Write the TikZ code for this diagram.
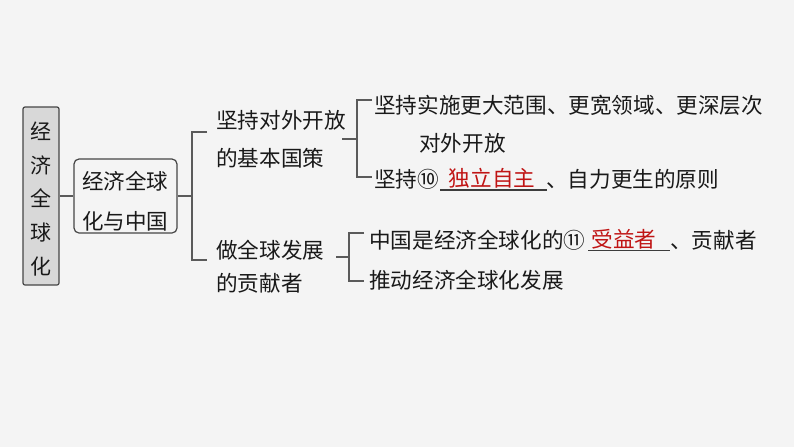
\documentclass[tikz,border=0pt]{standalone}
\usepackage{fontspec}
\setmainfont{Noto Sans CJK SC}
\definecolor{bgc}{RGB}{244,244,244}
\definecolor{ink}{RGB}{25,25,25}
\definecolor{lineg}{RGB}{90,90,90}
\definecolor{boxfill}{RGB}{216,216,216}
\definecolor{boxborder}{RGB}{70,70,70}
\definecolor{ansred}{RGB}{192,20,20}
\begin{document}
\begin{tikzpicture}[x=1pt,y=-1pt,
  txt/.style={inner sep=0pt, anchor=west, font=\fontsize{21.6}{26}\selectfont, text=ink},
  ans/.style={txt, anchor=center, text=ansred},
  ln/.style={draw=lineg, line width=1.3pt},
  uline/.style={draw=ink!85, line width=1.2pt}]
\fill[bgc] (0,0) rectangle (794,447);
\useasboundingbox (0,0) rectangle (794,447);

% root box
\node[draw=boxborder, fill=boxfill, rounded corners=2pt, line width=1.2pt,
      minimum width=36pt, minimum height=178pt, inner sep=0pt] (root) at (41,196) {};
\node[align=center, inner sep=0pt, text=ink, font=\fontsize{21}{33.7}\selectfont] (roott) at (41,199) {经\\济\\全\\球\\化};

% second box
\node[draw=boxborder, rounded corners=5pt, line width=1.2pt,
      minimum width=103pt, minimum height=74pt, inner sep=0pt] (sec) at (125.5,196) {};
\node[align=center, inner sep=0pt, text=ink, font=\fontsize{21.5}{40}\selectfont] (sect) at (125,201) {经济全球\\化与中国};

\draw[ln] (root.east) -- (sec.west);

% bracket 1
\coordinate (b1) at (192,196);
\coordinate (b1t) at (207,132);
\coordinate (b1b) at (207,260);
\draw[ln] (sec.east) -- (b1);
\draw[ln] (b1t) -| (b1) |- (b1b);

% level 2
\node[txt] (n1a) at (216,120) {坚持对外开放};
\node[txt] (n1b) at (216,158) {的基本国策};
\node[txt] (n2a) at (216,250) {做全球发展};
\node[txt] (n2b) at (216,283) {的贡献者};

% bracket 2
\coordinate (s2) at (342,139);
\coordinate (b2) at (357,139);
\coordinate (b2t) at (372,100);
\coordinate (b2b) at (372,177);
\draw[ln] (s2) -- (b2);
\draw[ln] (b2t) -| (b2) |- (b2b);

% bracket 3
\coordinate (s3) at (336,257);
\coordinate (b3) at (349,257);
\coordinate (b3t) at (364,233);
\coordinate (b3b) at (364,281);
\draw[ln] (s3) -- (b3);
\draw[ln] (b3t) -| (b3) |- (b3b);

% level 3 (upper)
\node[txt] (m1) at (374,105) {坚持实施更大范围、更宽领域、更深层次};
\node[txt] (m1b) at (419,143) {对外开放};
\node[txt] (m2a) at (374,179) {坚持⑩};
\node[ans] (m2ans) at (492,178) {独立自主};
\coordinate (u1a) at (440,190);
\coordinate (u1b) at (547,190);
\draw[uline] (u1a) -- (u1b);
\node[txt] (m2c) at (546,179) {、自力更生的原则};

% level 3 (lower)
\node[txt] (k1a) at (369,240) {中国是经济全球化的⑪};
\node[ans] (k1ans) at (624,239) {受益者};
\coordinate (u2a) at (588,250.5);
\coordinate (u2b) at (670,250.5);
\draw[uline] (u2a) -- (u2b);
\node[txt] (k1c) at (670,240) {、贡献者};
\node[txt] (k2) at (369,280) {推动经济全球化发展};
\end{tikzpicture}
\end{document}
